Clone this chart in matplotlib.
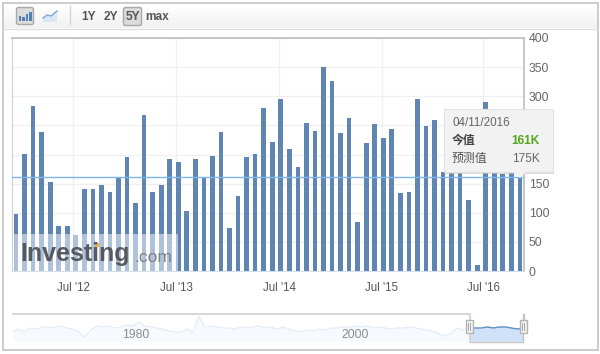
import matplotlib
matplotlib.use("Agg")
import matplotlib.pyplot as plt
from matplotlib.patches import Rectangle, Polygon, FancyBboxPatch
import numpy as np

plt.rcParams['font.family'] = ['Liberation Sans', 'Noto Sans CJK SC', 'DejaVu Sans']

values = [98, 201, 283, 239, 153, 77, 77, 62, 140, 141, 147, 136,
          161, 195, 117, 267, 136, 147, 193, 187, 103, 192, 161, 197,
          239, 74, 128, 196, 201, 279, 222, 295, 210, 178, 254, 241,
          350, 327, 237, 262, 84, 220, 252, 229, 243, 134, 136, 295,
          249, 260, 170, 245, 215, 122, 10, 290, 255, 166, 190, 161]
current = 161
y_ticks = [0, 50, 100, 150, 200, 250, 300, 350, 400]
# 200 and 250 sit behind the tooltip in the reference, so they are not visible
y_labels = ['0', '50', '100', '150', '', '', '300', '350', '400']
x_tick_pos = [6.73, 18.73, 30.8, 42.85, 54.7]
x_tick_labels = ["Jul '12", "Jul '13", "Jul '14", "Jul '15", "Jul '16"]
range_buttons = ['1Y', '2Y', '5Y', 'max']
nav_years = ['1980', '2000']
nav_line = [10, 12, 9, 13, 12, 14, 14, 13, 15, 13, 12, 9, 4, 11, 15, 14, 15, 13, 14, 16,
            15, 19, 15, 14, 13, 12, 10, 9, 9, 12, 9, 25, 14, 15, 14, 13, 13, 12, 14, 13,
            14, 15, 13, 14, 12, 14, 12, 10, 9, 11, 10, 12, 11, 13, 13, 14, 14, 15, 14, 15,
            13, 14, 13, 12, 13, 13, 14, 13, 12, 11, 10, 7, 5, 8, 13, 11, 14, 13, 13, 14,
            13, 14, 14, 13, 12, 13]

W, H = 600, 354
fig = plt.figure(figsize=(6, 3.54), dpi=100, facecolor='white')

def axes_px(x0, y0, x1, y1, **kw):
    return fig.add_axes([x0 / W, 1 - y1 / H, (x1 - x0) / W, (y1 - y0) / H], **kw)

# page furniture (pixel coordinates)
bg = axes_px(0, 0, W, H, zorder=0)
bg.set_xlim(0, W); bg.set_ylim(H, 0); bg.axis('off')
bg.imshow(np.linspace(1.0, 0.945, 26)[:, None], extent=(3, 597, 28, 2), aspect='auto',
          cmap='gray', vmin=0, vmax=1)
bg.set_xlim(0, W); bg.set_ylim(H, 0)
bg.add_patch(Rectangle((2.5, 2.5), 595, 347, fc='none', ec='#c4c4c4', lw=1.2))
bg.plot([3, 597], [28.5, 28.5], color='#dedede', lw=1)
bg.plot([69.5, 69.5], [6, 24], color='#d4d4d4', lw=1)

# bar-chart button
bg.add_patch(FancyBboxPatch((16.5, 7.5), 17, 17, boxstyle='round,pad=0,rounding_size=2',
                            fc='#dcdcdc', ec='#a8a8a8', lw=1))
for bx, bh in zip([18.5, 22, 25.5, 29], [5, 4, 7, 9]):
    bg.add_patch(Rectangle((bx, 21 - bh), 2.6, bh, fc='#4f7fb5', ec='none'))
# line-chart button
bg.add_patch(Polygon([(43, 22), (43, 18), (47, 15), (51, 16), (57, 11), (57, 22)],
                     fc='#dbe7f4', ec='none'))
bg.plot([43, 47, 51, 57], [18, 15, 16, 11], color='#7fa6d0', lw=1)
bg.add_patch(FancyBboxPatch((123.5, 7.5), 18, 18, boxstyle='round,pad=0,rounding_size=2',
                            fc='#dcdcdc', ec='#a8a8a8', lw=1))
for label, x in zip(range_buttons, [88.5, 110.5, 132.5, 157]):
    bg.text(x, 16.5, label, ha='center', va='center', fontsize=8.6,
            fontweight='bold', color='#555555')

# main chart
ax = axes_px(12, 38, 524, 271, zorder=1)
x = np.arange(len(values))
ax.bar(x, values, width=0.55, color='#5f86b3', zorder=3)
ax.axhline(current, color='#7db4ea', lw=1, zorder=4)
ax.set_xlim(-0.47, 59.48)
ax.set_ylim(0, 400)
ax.yaxis.tick_right()
ax.set_yticks(y_ticks, y_labels)
ax.set_xticks(x_tick_pos, x_tick_labels)
ax.tick_params(axis='y', length=0, pad=3.5, labelsize=8.8, labelcolor='#666666')
ax.tick_params(axis='x', length=0, pad=8, labelsize=8.3, labelcolor='#555555')
ax.grid(True, color='#f0f0f0', lw=1)
ax.set_axisbelow(True)
ax.spines['top'].set_color('#bdbdbd'); ax.spines['top'].set_linewidth(1.2)
ax.spines['right'].set_color('#bdbdbd'); ax.spines['right'].set_linewidth(1.2)
ax.spines['left'].set_color('#d0d0d0')
ax.spines['bottom'].set_color('#d3deec')

# navigator
nav = axes_px(12, 314, 524, 341, zorder=1)
nx = np.arange(len(nav_line))
split = 76
nav.fill_between(nx, nav_line, 0, color='#f6f9fd', lw=0)
nav.plot(nx, nav_line, color='#e2ebf5', lw=0.8)
nav.fill_between(nx[split:], np.array(nav_line[split:]), 0, color='#cfe2f8', lw=0)
nav.plot(nx[split:], nav_line[split:], color='#5f8fc4', lw=1)
nav.set_xlim(-0.1, len(nav_line) - 1 + 0.1)
nav.set_ylim(0, 27)
nav.axis('off')

# overlay: watermark, tooltip, navigator chrome
ov = axes_px(0, 0, W, H, zorder=2)
ov.set_xlim(0, W); ov.set_ylim(H, 0); ov.axis('off'); ov.patch.set_alpha(0)
ov.add_patch(Rectangle((13, 234), 165, 37, fc='white', ec='none', alpha=0.5))
ov.text(20, 254.5, 'Investing', fontsize=18, fontweight='bold', color='#505458',
        ha='left', va='center', alpha=0.95)
ov.text(134, 257, '.com', fontsize=12.5, color='#7b7f84', ha='left', va='center')
ov.add_patch(Rectangle((95, 243), 4, 4, fc='#f2b04c', ec='none'))

ov.add_patch(Rectangle((445, 110), 109, 64, fc='#c4c4c4', ec='none', alpha=0.6))
ov.add_patch(Rectangle((443.5, 108.5), 109, 63.5, fc='#f2f2f2', ec='#e2e2e2', lw=0.8))
ov.add_patch(Polygon([(514, 172), (526, 172), (520, 178)], fc='#f2f2f2', ec='none'))
ov.text(452.5, 122.5, '04/11/2016', fontsize=8.4, color='#666666', ha='left', va='center')
ov.text(452, 141, '今值', fontsize=8.6, fontweight='bold', color='#444444', ha='left', va='center')
ov.text(539.5, 141, '161K', fontsize=8.6, fontweight='bold', color='#55a81e', ha='right', va='center')
ov.text(452, 159, '预测值', fontsize=8.6, color='#555555', ha='left', va='center')
ov.text(539.5, 159, '175K', fontsize=8.6, color='#666666', ha='right', va='center')

ov.plot([12, 470, 470], [314, 314, 341.5], color='#d4d4d4', lw=1.3, solid_capstyle='butt')
ov.plot([470, 523, 523], [341.5, 341.5, 314], color='#c4c4c4', lw=1)
ov.plot([523.5, 523.5], [314, 320], color='#c4c4c4', lw=1)
for hx in [469, 523]:
    ov.add_patch(Rectangle((hx - 3.5, 320), 7, 13, fc='#f2f2f2', ec='#b4b4b4', lw=1, zorder=5))
    ov.plot([hx - 1, hx - 1], [323, 330], color='#a8a8a8', lw=0.7, zorder=6)
    ov.plot([hx + 1, hx + 1], [323, 330], color='#a8a8a8', lw=0.7, zorder=6)
for label, xp in zip(nav_years, [136, 355]):
    ov.text(xp, 334.5, label, fontsize=8.8, color='#8c8c8c', ha='center', va='center')

fig.savefig('out.png', dpi=100, facecolor='white')
